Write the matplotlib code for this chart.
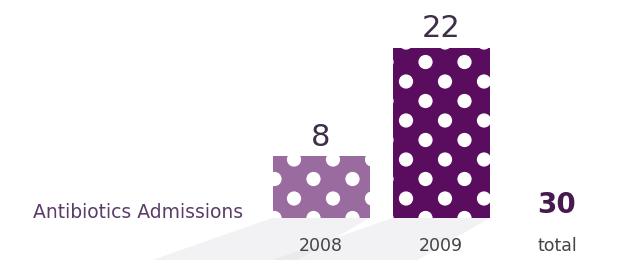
import matplotlib
matplotlib.use("Agg")
import matplotlib.pyplot as plt
import numpy as np
from matplotlib.patches import Polygon

years = ["2008", "2009"]
admissions = [8, 22]
total = 30
series_label = "Antibiotics Admissions"
bar_colors = ["#9a6b9e", "#5a0c5e"]
dot_phase_px = [2, 33]  # horizontal phase of polka pattern per bar (style)

fig = plt.figure(figsize=(6.17, 2.6), dpi=100)
ax = fig.add_axes([0, 0, 1, 1])
px_x = 120.0  # px per x unit
px_y = 7.73   # px per y unit
ax.set_xlim(-321 / px_x, (617 - 321) / px_x)
ax.set_ylim(-42 / px_y, 218 / px_y)
ax.axis("off")

x = np.arange(len(years))
width = 97 / px_x

# faint floor shadows
for xi, v in zip(x, admissions):
    l, r = xi - width / 2, xi + width / 2
    poly = Polygon([(l, 0), (r, 0), (r - 0.6, -5.43), (l - 1.0, -5.43)],
                   closed=True, facecolor="#e4e0e6", edgecolor="none", alpha=0.45, zorder=0)
    ax.add_patch(poly)

bars = ax.bar(x, admissions, width=width, color=bar_colors, zorder=2)

# polka dots clipped to bars
dx = 39 / px_x
dy = 19.5 / px_y
for b, xi, v, ph in zip(bars, x, admissions, dot_phase_px):
    l = xi - width / 2
    pts_x, pts_y = [], []
    row = 0
    yy = 0.0
    while yy < v + dy:
        off = 0 if row % 2 == 0 else -dx / 2
        xx = l + ph / px_x + off - dx
        while xx < l + width + dx:
            pts_x.append(xx)
            pts_y.append(yy)
            xx += dx
        yy += dy
        row += 1
    sc = ax.scatter(pts_x, pts_y, s=105, color="white", edgecolors="none", zorder=3)
    sc.set_clip_path(b)

for xi, v, yr in zip(x, admissions, years):
    ax.text(xi, v + 0.6, str(v), ha="center", va="bottom", fontsize=22,
            color="#3e2e48")
    ax.text(xi, -3.6, yr, ha="center", va="center", fontsize=12.5, color="#444444")

ax.text(-288 / px_x, 0.75, series_label, ha="left", va="center", fontsize=13.5, color="#5b3d66")
ax.text(236 / px_x, 1.7, str(total), ha="center", va="center", fontsize=20,
        fontweight="bold", color="#461a4e")
ax.text(236 / px_x, -3.6, "total", ha="center", va="center", fontsize=12.5, color="#444444")

fig.savefig("out.png", dpi=100)
